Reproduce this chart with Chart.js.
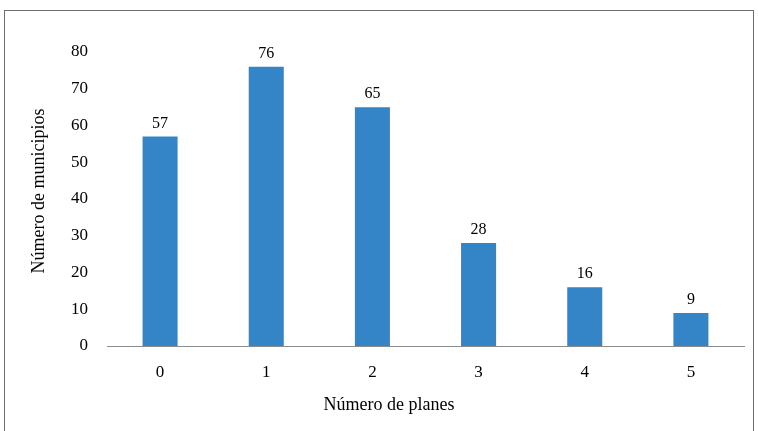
<!DOCTYPE html>
<html>
<head>
<meta charset="utf-8">
<script src="https://cdn.jsdelivr.net/npm/chart.js@4"></script>
<style>
	body { margin: 0; background: #fff; }
	#marco { position: absolute; left: 4px; top: 10px; width: 750px; height: 440px; border: 1px solid #6f6f6f; border-bottom: none; box-sizing: border-box; }
	#caja { position: absolute; left: 0; top: 0; width: 758px; height: 431px; }
</style>
</head>
<body>
<div id="marco"></div>
<div id="caja"><canvas id="grafico"></canvas></div>
<script>
// datos
const categorias = ["0", "1", "2", "3", "4", "5"];
const municipios = [57, 76, 65, 28, 16, 9];
const ticksY = [0, 10, 20, 30, 40, 50, 60, 70, 80];
const tituloX = "Número de planes";
const tituloY = "Número de municipios";

const fuente = "'Liberation Serif', 'DejaVu Serif', serif";

// etiquetas encima de cada barra + titulos de los ejes
const etiquetas = {
	id: "etiquetas",
	afterDatasetsDraw(chart){
		const ctx = chart.ctx;
		const meta = chart.getDatasetMeta(0);
		ctx.save();
		ctx.font = "16px " + fuente;
		ctx.fillStyle = "#000";
		ctx.textAlign = "center";
		ctx.textBaseline = "alphabetic";
		meta.data.forEach((barra, i) => {
			ctx.fillText(municipios[i], barra.x, barra.y - 9);
		});
		// titulos (Excel no los centra sobre el area del grafico)
		ctx.font = "18px " + fuente;
		ctx.textBaseline = "middle";
		ctx.fillText(tituloX, 389, 405);
		ctx.translate(39, 191);
		ctx.rotate(-Math.PI / 2);
		ctx.fillText(tituloY, 0, 0);
		ctx.restore();
	}
};

new Chart(document.querySelector("#grafico"), {
	type: "bar",
	data: {
		labels: categorias,
		datasets: [{
			data: municipios,
			backgroundColor: "#3385c7",
			barPercentage: 0.33,
			categoryPercentage: 1,
		}],
	},
	options: {
		responsive: true,
		maintainAspectRatio: false,
		animation: false,
		layout: { padding: { top: 52, right: 14, bottom: 0, left: 0 } },
		plugins: { legend: { display: false }, tooltip: { enabled: false } },
		scales: {
			x: {
				grid: { display: false, drawTicks: false },
				border: { display: true, color: "#8c8c8c", width: 1 },
				ticks: { color: "#000", font: { family: fuente, size: 17 }, padding: 16 },
				afterFit(scale){ scale.height = 85; },
			},
			y: {
				min: 0,
				max: 80,
				grid: { display: false, drawTicks: false },
				border: { display: false },
				afterBuildTicks(scale){ scale.ticks = ticksY.map(v => ({ value: v })); },
				ticks: { color: "#000", font: { family: fuente, size: 17 }, padding: 19 },
				afterFit(scale){ scale.width = 107; },
			},
		},
	},
	plugins: [etiquetas],
});
</script>
</body>
</html>
